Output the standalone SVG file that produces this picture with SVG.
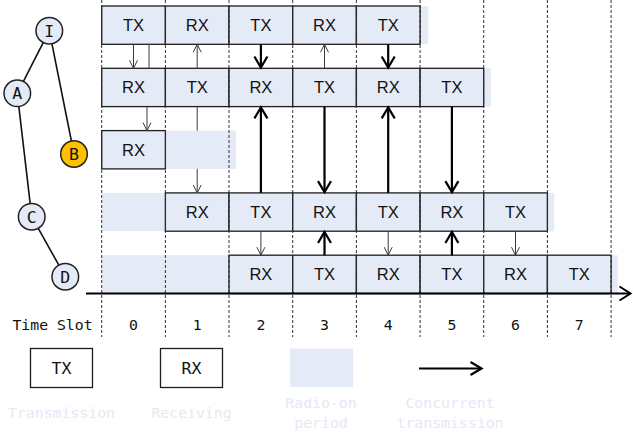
<svg xmlns="http://www.w3.org/2000/svg" width="633" height="435" viewBox="0 0 633 435">
  <style>
    .bg { fill: #e5ebf6; stroke: none; }
    .box { fill: #e5ebf6; stroke: #1e1e1e; stroke-width: 1.3; }
    .lbl { font-family: "Liberation Sans", Arial, sans-serif; font-size: 16.5px; fill: #111; text-anchor: middle; }
    .mono { font-family: "DejaVu Sans Mono", "Liberation Mono", monospace; font-size: 14.8px; fill: #111; text-anchor: middle; }
    .legend-box { fill: #ffffff; stroke: #1e1e1e; stroke-width: 1.3; }
    .legend-lbl { font-family: "DejaVu Sans Mono", "Liberation Mono", monospace; font-size: 16.5px; fill: #111; text-anchor: middle; }
    .faint { font-family: "DejaVu Sans Mono", "Liberation Mono", monospace; font-size: 14.8px; fill: #e3e9f5; text-anchor: middle; }
    .grid { stroke: #333; stroke-width: 1; stroke-dasharray: 3 2; fill: none; }
    .thin { stroke: #3a3a3a; stroke-width: 1; fill: none; }
    .thick { stroke: #000; stroke-width: 2.2; fill: none; }
    .edge { stroke: #111; stroke-width: 1.6; fill: none; }
    .node { fill: #e5ebf6; stroke: #222; stroke-width: 1.5; }
    .node-b { fill: #ffc000; stroke: #222; stroke-width: 1.5; }
    .nlbl { font-family: "DejaVu Sans Mono", "Liberation Mono", monospace; font-size: 16.5px; fill: #111; text-anchor: middle; }
  </style>
  <defs>
    <marker id="head-thin" markerUnits="userSpaceOnUse" orient="auto" overflow="visible" markerWidth="10" markerHeight="10">
      <path d="M-8,-4 L0,0 L-8,4" fill="none" stroke="#3a3a3a" stroke-width="1"/>
    </marker>
    <marker id="head-thick" markerUnits="userSpaceOnUse" orient="auto" overflow="visible" markerWidth="14" markerHeight="14">
      <path d="M-11,-6.5 L0,0 L-11,6.5" fill="none" stroke="#000" stroke-width="2.2" stroke-linejoin="miter"/>
    </marker>
    <marker id="head-axis" markerUnits="userSpaceOnUse" orient="auto" overflow="visible" markerWidth="14" markerHeight="16">
      <path d="M-11,-7 L0,0 L-11,7" fill="none" stroke="#000" stroke-width="2" stroke-linejoin="miter"/>
    </marker>
  </defs>

  <!-- topology tree -->
  <g id="tree-edges">
    <line class="edge" x1="49.3" y1="30.7" x2="17.3" y2="93.3"/>
    <line class="edge" x1="49.3" y1="30.7" x2="74" y2="154"/>
    <line class="edge" x1="17.3" y1="93.3" x2="31.7" y2="216.7"/>
    <line class="edge" x1="31.7" y1="216.7" x2="65.3" y2="276.7"/>
  </g>
  <g id="node-I"><circle class="node" cx="49.3" cy="30.7" r="13.3"/><text class="nlbl" x="49.3" y="36.6">I</text></g>
  <g id="node-A"><circle class="node" cx="17.3" cy="93.3" r="13.3"/><text class="nlbl" x="17.3" y="99.2">A</text></g>
  <g id="node-B"><circle class="node-b" cx="74" cy="154" r="13.3"/><text class="nlbl" x="74" y="159.9">B</text></g>
  <g id="node-C"><circle class="node" cx="31.7" cy="216.7" r="13.3"/><text class="nlbl" x="31.7" y="222.6">C</text></g>
  <g id="node-D"><circle class="node" cx="65.3" cy="276.7" r="13.3"/><text class="nlbl" x="65.3" y="282.6">D</text></g>

  <!-- radio-on periods -->
  <g id="radio-on">
    <rect class="bg" x="101.7" y="6" width="326.6" height="38.3"/>
    <rect class="bg" x="101.7" y="68.3" width="389.3" height="38.3"/>
    <rect class="bg" x="101.7" y="130.6" width="134.3" height="38.3"/>
    <rect class="bg" x="101.7" y="192.9" width="452.6" height="38.3"/>
    <rect class="bg" x="101.7" y="255.2" width="516" height="38.3"/>
  </g>

  <!-- schedule of node I -->
  <g id="row-I">
    <rect class="box" x="101.7" y="6" width="63.7" height="38.3"/><text class="lbl" x="133.5" y="31.1">TX</text>
    <rect class="box" x="165.4" y="6" width="63.6" height="38.3"/><text class="lbl" x="197.2" y="31.1">RX</text>
    <rect class="box" x="229" y="6" width="63.7" height="38.3"/><text class="lbl" x="260.9" y="31.1">TX</text>
    <rect class="box" x="292.7" y="6" width="63.7" height="38.3"/><text class="lbl" x="324.5" y="31.1">RX</text>
    <rect class="box" x="356.4" y="6" width="63.7" height="38.3"/><text class="lbl" x="388.2" y="31.1">TX</text>
  </g>
  <!-- schedule of node A -->
  <g id="row-A">
    <rect class="box" x="101.7" y="68.3" width="63.7" height="38.3"/><text class="lbl" x="133.5" y="93.4">RX</text>
    <rect class="box" x="165.4" y="68.3" width="63.6" height="38.3"/><text class="lbl" x="197.2" y="93.4">TX</text>
    <rect class="box" x="229" y="68.3" width="63.7" height="38.3"/><text class="lbl" x="260.9" y="93.4">RX</text>
    <rect class="box" x="292.7" y="68.3" width="63.7" height="38.3"/><text class="lbl" x="324.5" y="93.4">TX</text>
    <rect class="box" x="356.4" y="68.3" width="63.7" height="38.3"/><text class="lbl" x="388.2" y="93.4">RX</text>
    <rect class="box" x="420.1" y="68.3" width="63.6" height="38.3"/><text class="lbl" x="451.9" y="93.4">TX</text>
  </g>
  <!-- schedule of node B -->
  <g id="row-B">
    <rect class="box" x="101.7" y="130.6" width="63.7" height="38.3"/><text class="lbl" x="133.5" y="155.7">RX</text>
  </g>
  <!-- schedule of node C -->
  <g id="row-C">
    <rect class="box" x="165.4" y="192.9" width="63.6" height="38.3"/><text class="lbl" x="197.2" y="218">RX</text>
    <rect class="box" x="229" y="192.9" width="63.7" height="38.3"/><text class="lbl" x="260.9" y="218">TX</text>
    <rect class="box" x="292.7" y="192.9" width="63.7" height="38.3"/><text class="lbl" x="324.5" y="218">RX</text>
    <rect class="box" x="356.4" y="192.9" width="63.7" height="38.3"/><text class="lbl" x="388.2" y="218">TX</text>
    <rect class="box" x="420.1" y="192.9" width="63.6" height="38.3"/><text class="lbl" x="451.9" y="218">RX</text>
    <rect class="box" x="483.7" y="192.9" width="63.7" height="38.3"/><text class="lbl" x="515.5" y="218">TX</text>
  </g>
  <!-- schedule of node D -->
  <g id="row-D">
    <rect class="box" x="229" y="255.2" width="63.7" height="38.3"/><text class="lbl" x="260.9" y="280.3">RX</text>
    <rect class="box" x="292.7" y="255.2" width="63.7" height="38.3"/><text class="lbl" x="324.5" y="280.3">TX</text>
    <rect class="box" x="356.4" y="255.2" width="63.7" height="38.3"/><text class="lbl" x="388.2" y="280.3">RX</text>
    <rect class="box" x="420.1" y="255.2" width="63.6" height="38.3"/><text class="lbl" x="451.9" y="280.3">TX</text>
    <rect class="box" x="483.7" y="255.2" width="63.7" height="38.3"/><text class="lbl" x="515.5" y="280.3">RX</text>
    <rect class="box" x="547.4" y="255.2" width="63.7" height="38.3"/><text class="lbl" x="579.2" y="280.3">TX</text>
  </g>

  <!-- slot boundaries -->
  <g id="slot-grid">
    <line class="grid" x1="101.7" y1="0" x2="101.7" y2="337"/>
    <line class="grid" x1="165.4" y1="0" x2="165.4" y2="337"/>
    <line class="grid" x1="229" y1="0" x2="229" y2="337"/>
    <line class="grid" x1="292.7" y1="0" x2="292.7" y2="337"/>
    <line class="grid" x1="356.4" y1="0" x2="356.4" y2="337"/>
    <line class="grid" x1="420.1" y1="0" x2="420.1" y2="337"/>
    <line class="grid" x1="483.7" y1="0" x2="483.7" y2="337"/>
    <line class="grid" x1="547.4" y1="0" x2="547.4" y2="337"/>
    <line class="grid" x1="611.1" y1="0" x2="611.1" y2="337"/>
  </g>

  <!-- transmissions between rows -->
  <g id="connectors">
    <line class="thin" x1="133.5" y1="44.3" x2="133.5" y2="68.3" marker-end="url(#head-thin)"/>
    <line class="thin" x1="149" y1="44.3" x2="149" y2="68.3"/>
    <line class="thin" x1="147" y1="106.6" x2="147" y2="130.6" marker-end="url(#head-thin)"/>
    <line class="thin" x1="197.2" y1="68.3" x2="197.2" y2="44.3" marker-end="url(#head-thin)"/>
    <line class="thin" x1="197.2" y1="106.6" x2="197.2" y2="130.6"/>
    <line class="thin" x1="197.2" y1="168.9" x2="197.2" y2="192.9" marker-end="url(#head-thin)"/>
    <line class="thin" x1="324.5" y1="68.3" x2="324.5" y2="44.3" marker-end="url(#head-thin)"/>
    <line class="thin" x1="260.9" y1="231.2" x2="260.9" y2="255.2" marker-end="url(#head-thin)"/>
    <line class="thin" x1="388.2" y1="231.2" x2="388.2" y2="255.2" marker-end="url(#head-thin)"/>
    <line class="thin" x1="515.5" y1="231.2" x2="515.5" y2="255.2" marker-end="url(#head-thin)"/>

    <line class="thick" x1="260.9" y1="44.3" x2="260.9" y2="67.5" marker-end="url(#head-thick)"/>
    <line class="thick" x1="388.2" y1="44.3" x2="388.2" y2="67.5" marker-end="url(#head-thick)"/>
    <line class="thick" x1="260.9" y1="192.9" x2="260.9" y2="107.4" marker-end="url(#head-thick)"/>
    <line class="thick" x1="324.5" y1="106.6" x2="324.5" y2="192.1" marker-end="url(#head-thick)"/>
    <line class="thick" x1="388.2" y1="192.9" x2="388.2" y2="107.4" marker-end="url(#head-thick)"/>
    <line class="thick" x1="451.9" y1="106.6" x2="451.9" y2="192.1" marker-end="url(#head-thick)"/>
    <line class="thick" x1="324.5" y1="255.2" x2="324.5" y2="232" marker-end="url(#head-thick)"/>
    <line class="thick" x1="451.9" y1="255.2" x2="451.9" y2="232" marker-end="url(#head-thick)"/>
  </g>

  <!-- time axis -->
  <g id="time-axis">
    <line x1="86" y1="293.5" x2="630.5" y2="293.5" stroke="#000" stroke-width="2.2" marker-end="url(#head-axis)"/>
    <text class="mono" x="52.5" y="329.5">Time Slot</text>
    <text class="mono" x="133.5" y="329.5">0</text>
    <text class="mono" x="197.2" y="329.5">1</text>
    <text class="mono" x="260.9" y="329.5">2</text>
    <text class="mono" x="324.5" y="329.5">3</text>
    <text class="mono" x="388.2" y="329.5">4</text>
    <text class="mono" x="451.9" y="329.5">5</text>
    <text class="mono" x="515.5" y="329.5">6</text>
    <text class="mono" x="579.2" y="329.5">7</text>
  </g>

  <!-- legend -->
  <g id="legend">
    <rect class="legend-box" x="30.5" y="348.5" width="62" height="39"/>
    <text class="legend-lbl" x="61.5" y="374">TX</text>
    <rect class="legend-box" x="160.5" y="348.5" width="62" height="39"/>
    <text class="legend-lbl" x="191.5" y="374">RX</text>
    <rect class="bg" x="290" y="348.5" width="63" height="38.5"/>
    <line x1="419" y1="368.5" x2="481.5" y2="368.5" stroke="#000" stroke-width="2" marker-end="url(#head-thick)"/>
    <text class="faint" x="61.5" y="418">Transmission</text>
    <text class="faint" x="191.5" y="418">Receiving</text>
    <text class="faint" x="321" y="408">Radio-on</text>
    <text class="faint" x="321" y="428">period</text>
    <text class="faint" x="450" y="408">Concurrent</text>
    <text class="faint" x="450" y="428">transmission</text>
  </g>
</svg>
